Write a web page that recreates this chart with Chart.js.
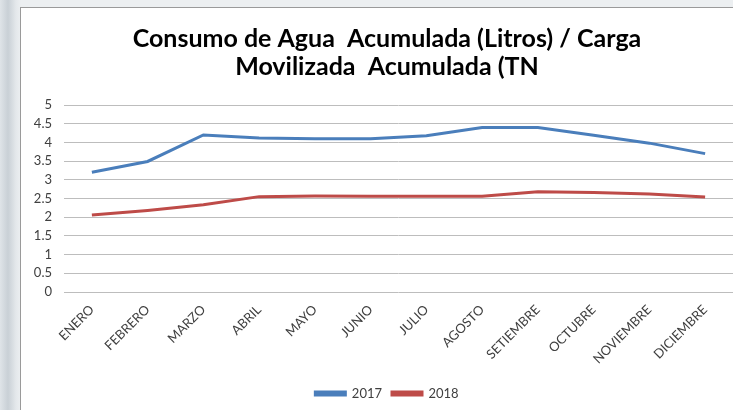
<!DOCTYPE html>
<html>
<head>
<meta charset="utf-8">
<script src="https://cdn.jsdelivr.net/npm/chart.js@4"></script>
<style>
    html, body { margin: 0; padding: 0; }
    body {
        width: 733px; height: 410px; overflow: hidden; position: relative;
        background: linear-gradient(90deg, #dfe4e8 0px, #c9d0d6 8px, #e4e8eb 16px, #eceff1 21px);
    }
    #box {
        position: absolute; left: 20px; top: 7px; width: 760px; height: 420px;
        background: #fff; border: 1px solid #9a9a9a;
    }
    #graphic { position: absolute; left: 0; top: 0; }
</style>
</head>
<body>
<div id="box">
    <canvas id="graphic" width="732" height="403"></canvas>
</div>
<script>
    const meses = ['ENERO', 'FEBRERO', 'MARZO', 'ABRIL', 'MAYO', 'JUNIO', 'JULIO',
        'AGOSTO', 'SETIEMBRE', 'OCTUBRE', 'NOVIEMBRE', 'DICIEMBRE'];
    const valores2017 = [3.2, 3.49, 4.2, 4.12, 4.1, 4.1, 4.18, 4.4, 4.4, 4.19, 3.98, 3.7];
    const valores2018 = [2.06, 2.18, 2.33, 2.55, 2.57, 2.56, 2.56, 2.56, 2.68, 2.66, 2.62, 2.54];
    const titulo = ['Consumo de Agua  Acumulada (Litros) / Carga', 'Movilizada  Acumulada (TN'];

    const ctx = document.getElementById('graphic').getContext('2d');

    new Chart(ctx, {
        type: 'line',
        data: {
            labels: meses,
            datasets: [
                {
                    label: '2017',
                    data: valores2017,
                    borderColor: '#4a7ebb',
                    backgroundColor: '#4a7ebb',
                    borderWidth: 3,
                    pointRadius: 0,
                    fill: false
                },
                {
                    label: '2018',
                    data: valores2018,
                    borderColor: '#be4b48',
                    backgroundColor: '#be4b48',
                    borderWidth: 3,
                    pointRadius: 0,
                    fill: false
                }
            ]
        },
        options: {
            responsive: false,
            animation: false,
            layout: { padding: { left: 0, right: 0, top: 0, bottom: 1 } },
            scales: {
                x: {
                    offset: true,
                    // el área del gráfico sigue más allá del borde derecho de la imagen
                    afterFit: scale => {
                        scale.height = 85;
                        scale.paddingLeft = 0;
                        scale.paddingRight = 20;
                    },
                    grid: { display: false },
                    border: { display: false },
                    ticks: {
                        color: '#404040',
                        font: { family: 'Lato', size: 13 },
                        minRotation: 45,
                        maxRotation: 45,
                        padding: 2
                    }
                },
                y: {
                    min: 0,
                    max: 5,
                    afterFit: scale => { scale.width = 43; },
                    grid: { color: '#bdbdbd', lineWidth: 1, drawTicks: false },
                    border: { display: false },
                    ticks: {
                        stepSize: 0.5,
                        color: '#404040',
                        font: { family: 'Lato', size: 13 },
                        padding: 12,
                        callback: value => String(value)
                    }
                }
            },
            plugins: {
                title: {
                    display: true,
                    text: titulo,
                    color: '#000',
                    font: { family: 'Lato', size: 25, weight: 'bold', lineHeight: 1.12 },
                    padding: { top: 17, bottom: 24 }
                },
                legend: {
                    position: 'bottom',
                    labels: {
                        color: '#404040',
                        font: { family: 'Lato', size: 13 },
                        boxWidth: 30,
                        boxHeight: 3,
                        padding: 10
                    }
                },
                tooltip: { enabled: false }
            }
        }
    });
</script>
</body>
</html>
